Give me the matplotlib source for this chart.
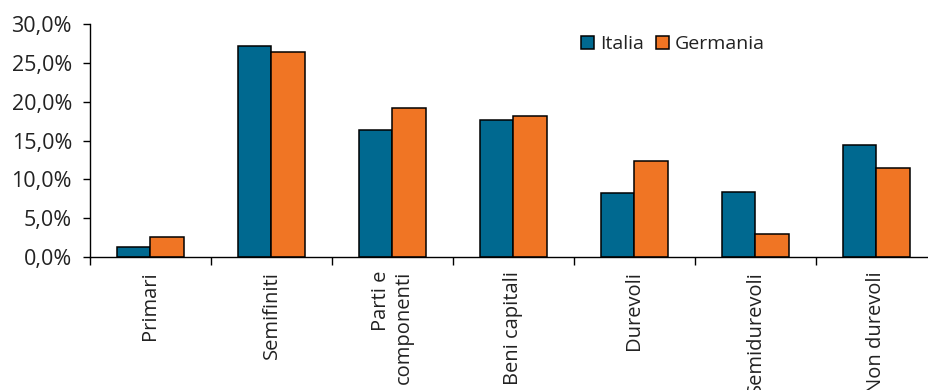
import numpy as np
import matplotlib
matplotlib.use('Agg')
import matplotlib.pyplot as plt
from matplotlib.ticker import FuncFormatter, FixedLocator

plt.rcParams['font.family'] = ['Open Sans', 'DejaVu Sans']
plt.rcParams['text.color'] = '#222222'
plt.rcParams['xtick.color'] = '#222222'
plt.rcParams['ytick.color'] = '#222222'

categories = ["Primari", "Semifiniti", "Parti e\ncomponenti", "Beni capitali",
              "Durevoli", "Semidurevoli", "Non durevoli"]
italia = [1.3, 27.2, 16.4, 17.7, 8.2, 8.4, 14.4]
germania = [2.6, 26.4, 19.2, 18.2, 12.3, 3.0, 11.5]

blue = "#006990"
orange = "#F07524"

fig = plt.figure(figsize=(9.29, 3.90), dpi=100)
ax = fig.add_axes([90/929, 1 - 257/390, 847/929, 233/390])

x = np.arange(len(categories))
w = 0.28
ax.bar(x - w/2, italia, w, color=blue, edgecolor="black", linewidth=1.1, label="Italia")
ax.bar(x + w/2, germania, w, color=orange, edgecolor="black", linewidth=1.1, label="Germania")

ax.set_xlim(-0.5, len(categories) - 0.5)
ax.set_ylim(0, 30)
ax.set_yticks(np.arange(0, 31, 5))
ax.yaxis.set_major_formatter(FuncFormatter(lambda v, p: f"{v:.1f}%".replace(".", ",")))

# category labels at the centres, tick marks on the boundaries
ax.set_xticks(x)
ax.set_xticklabels(categories, rotation=90, ha="right", va="center",
                   rotation_mode="anchor", multialignment="right")
ax.tick_params(axis="x", which="major", length=0, pad=10, labelsize=14.5)
ax.xaxis.set_minor_locator(FixedLocator(np.arange(len(categories)) - 0.5))
ax.tick_params(axis="x", which="minor", length=6, width=1, direction="out", color="black")
ax.tick_params(axis="y", length=5, width=1, direction="out", labelsize=15.5, pad=8, color="black")

for s in ["top", "right"]:
    ax.spines[s].set_visible(False)
ax.spines["left"].set_linewidth(1)
ax.spines["bottom"].set_linewidth(1)

ax.legend(loc="upper left", bbox_to_anchor=(0.57, 0.985), ncol=2, frameon=False,
          handlelength=0.7, handleheight=0.7, handletextpad=0.3,
          columnspacing=0.6, fontsize=14, borderaxespad=0)

fig.savefig("out.png", dpi=100)
